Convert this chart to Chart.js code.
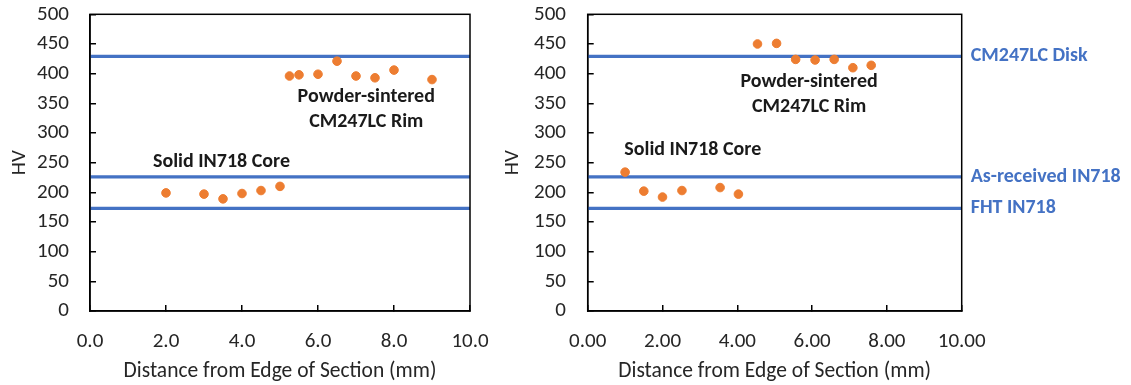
<!DOCTYPE html>
<html>
<head>
<meta charset="utf-8">
<script src="https://cdn.jsdelivr.net/npm/chart.js@4"></script>
<style>
  body { margin: 0; background: #fff; }
  #wrap { position: relative; width: 1131px; height: 385px; }
  canvas { position: absolute; top: 0; }
</style>
</head>
<body>
<div id="wrap">
  <canvas id="grafEsq" width="490" height="385" style="left:0"></canvas>
  <canvas id="grafDir" width="641" height="385" style="left:490px"></canvas>
</div>
<script>
// dados - painel esquerdo
var distEsq = [2.0, 3.0, 3.5, 4.0, 4.5, 5.0, 5.25, 5.5, 6.0, 6.5, 7.0, 7.5, 8.0, 9.0];
var hvEsq = [199, 197, 189, 198, 203, 210, 396, 398, 399, 421, 396, 393, 406, 390];

// painel direito
var distDir = [1.0, 1.5, 2.0, 2.52, 3.54, 4.03, 4.54, 5.05, 5.56, 6.08, 6.59, 7.09, 7.58];
var hvDir = [234, 202, 192, 203, 208, 197, 450, 451, 424, 423, 424, 410, 414];

// linhas de referencia (dureza)
var refNomes = ['CM247LC Disk', 'As-received IN718', 'FHT IN718'];
var refHV = [429, 226, 173];

// rotulos dos eixos
var ticksEsq = ['0.0', '2.0', '4.0', '6.0', '8.0', '10.0'];
var ticksDir = ['0.00', '2.00', '4.00', '6.00', '8.00', '10.00'];

var fonte = 'Carlito, Lato, sans-serif';
var corTexto = '#262626';
var azul = '#4472C4';
var laranja = '#ED7D31';

// textos dentro do grafico, ancorados em coordenadas dos dados
var notasEsq = [
  { text: 'Powder-sintered', x: 7.27, y: 361 },
  { text: 'CM247LC Rim', x: 7.27, y: 319 },
  { text: 'Solid IN718 Core', x: 3.46, y: 251 }
];
var notasDir = [
  { text: 'Powder-sintered', x: 5.92, y: 386 },
  { text: 'CM247LC Rim', x: 5.92, y: 344 },
  { text: 'Solid IN718 Core', x: 2.81, y: 271 }
];

var pontos = function (xs, ys) {
  return xs.map(function (x, i) { return { x: x, y: ys[i] }; });
};

var datasetsRef = refHV.map(function (v) {
  return {
    type: 'line',
    data: [{ x: 0, y: v }, { x: 10, y: v }],
    borderColor: azul,
    borderWidth: 3.2,
    pointRadius: 0,
    fill: false
  };
});

// moldura preta + textos
var moldura = {
  id: 'moldura',
  afterDatasetsDraw: function (chart) {
    var ctx = chart.ctx;
    var a = chart.chartArea;
    ctx.save();
    ctx.strokeStyle = '#000';
    ctx.lineWidth = 1.5;
    ctx.strokeRect(a.left, a.top, a.right - a.left, a.bottom - a.top);
    var notas = chart.options.plugins.moldura.notas;
    ctx.font = 'bold 20px ' + fonte;
    ctx.fillStyle = '#1a1a1a';
    ctx.textAlign = 'center';
    ctx.textBaseline = 'middle';
    notas.forEach(function (n) {
      ctx.fillText(n.text, chart.scales.x.getPixelForValue(n.x), chart.scales.y.getPixelForValue(n.y));
    });
    ctx.restore();
  }
};

// o padding dos ticks empurra a area do grafico; zera isso
var semFolga = function (s) {
  s.paddingTop = 0; s.paddingBottom = 0; s.paddingLeft = 0; s.paddingRight = 0;
};

function eixoX(rotulos, tamanho) {
  return {
    type: 'linear', min: 0, max: 10,
    afterFit: function (s) { s.height = tamanho; semFolga(s); },
    ticks: {
      stepSize: 2, padding: 24, color: corTexto,
      font: { family: fonte, size: 21 },
      callback: function (v, i) { return rotulos[i]; }
    },
    grid: { drawOnChartArea: false, tickLength: -6, color: '#000', lineWidth: 1.5 },
    border: { color: '#000', width: 1.5 },
    title: {
      display: true, text: 'Distance from Edge of Section (mm)', color: corTexto,
      font: { family: fonte, size: 21.5 }, padding: { top: 0, bottom: 0 }
    }
  };
}

function eixoY(largura, pad, padTitulo) {
  return {
    type: 'linear', min: 0, max: 500,
    afterFit: function (s) { s.width = largura; semFolga(s); },
    ticks: { stepSize: 50, autoSkip: false, padding: pad, color: corTexto, font: { family: fonte, size: 21 } },
    grid: { drawOnChartArea: false, tickLength: -6, color: '#000', lineWidth: 1.5 },
    border: { color: '#000', width: 1.5 },
    title: {
      display: true, text: 'HV', color: corTexto,
      font: { family: fonte, size: 21 }, padding: { top: padTitulo, bottom: 0 }
    }
  };
}

var ctx = document.getElementById('grafEsq');
var grafEsq = new Chart(ctx, {
  type: 'scatter',
  data: {
    datasets: [{
      data: pontos(distEsq, hvEsq),
      backgroundColor: laranja,
      borderColor: laranja,
      pointRadius: 4.3
    }].concat(datasetsRef.map(function (d) { return Object.assign({}, d); }))
  },
  options: {
    responsive: false,
    animation: false,
    layout: { padding: { top: 14.3, right: 20, left: 0, bottom: 0 } },
    plugins: { legend: { display: false }, tooltip: { enabled: false }, moldura: { notas: notasEsq } },
    scales: {
      x: eixoX(ticksEsq, 74),
      y: eixoY(90, 27, 7)
    }
  },
  plugins: [moldura]
});

var ctx = document.getElementById('grafDir');
var grafDir = new Chart(ctx, {
  type: 'scatter',
  data: {
    datasets: [{
      data: pontos(distDir, hvDir),
      backgroundColor: laranja,
      borderColor: laranja,
      pointRadius: 4.3
    }].concat(datasetsRef.map(function (d) { return Object.assign({}, d); }))
  },
  options: {
    responsive: false,
    animation: false,
    layout: { padding: { top: 14.3, right: 0, left: 0, bottom: 0 } },
    plugins: { legend: { display: false }, tooltip: { enabled: false }, moldura: { notas: notasDir } },
    scales: {
      x: eixoX(ticksDir, 74),
      y: eixoY(97.7, 27.7, 10.4),
      // eixo da direita so com os nomes das linhas de referencia
      y2: {
        type: 'linear', position: 'right', min: 0, max: 500,
        afterFit: function (s) { s.width = 169.3; semFolga(s); },
        afterBuildTicks: function (s) {
          s.ticks = refHV.map(function (v) { return { value: v }; });
        },
        ticks: {
          padding: 9, autoSkip: false, color: azul, font: { family: fonte, size: 20, weight: 'bold' },
          callback: function (v) { return refNomes[refHV.indexOf(v)]; }
        },
        grid: { display: false, drawTicks: false },
        border: { display: false }
      }
    }
  },
  plugins: [moldura]
});
</script>
</body>
</html>
